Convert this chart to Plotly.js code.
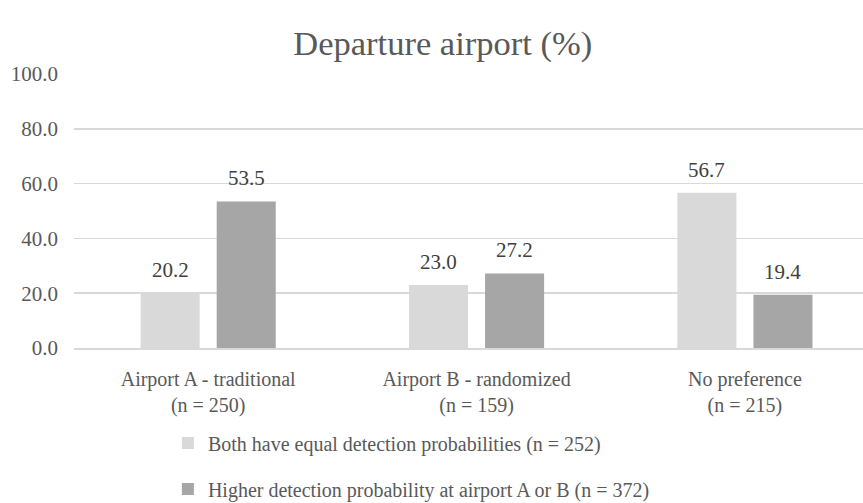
<!DOCTYPE html>
<html>
<head>
<meta charset="utf-8">
<script src="https://cdn.plot.ly/plotly-3.0.1.min.js"></script>
<style>
  html, body { margin: 0; padding: 0; background: #fff; }
  #chart { width: 863px; height: 503px; }
</style>
</head>
<body>
<div id="chart"></div>
<script>
// Departure airport choice by detection-probability condition
const categories = ["Airport A - traditional<br>(n = 250)", "Airport B - randomized<br>(n = 159)", "No preference<br>(n = 215)"];
const seriesNames = ["Both have equal detection probabilities (n = 252)", "Higher detection probability at airport A or B (n = 372)"];
const equalProb = [20.2, 23.0, 56.7];
const higherProb = [53.5, 27.2, 19.4];
const yTicks = [0, 20, 40, 60, 80, 100];

const font = "Liberation Serif, DejaVu Serif, serif";
const xIdx = categories.map((_, i) => i);
const BARGAP = 0.433;
const BARGROUPGAP = 0.224;

function barTrace(name, values, color, group) {
  return {
    type: "bar",
    name: name,
    x: xIdx,
    y: values,
    marker: { color: color },
    legendgroup: group,
    hoverinfo: "skip"
  };
}

const series = [
  { name: seriesNames[0], values: equalProb, color: "#d9d9d9", group: "a" },
  { name: seriesNames[1], values: higherProb, color: "#a6a6a6", group: "b" }
];

const data = series.map(s => barTrace(s.name, s.values, s.color, s.group));

// value labels sit above each bar, centred on its slot within the group
const slot = (1 - BARGAP) / series.length;
const annotations = [];
series.forEach((s, si) => {
  s.values.forEach((v, ci) => {
    annotations.push({
      x: ci + (si - (series.length - 1) / 2) * slot,
      y: v,
      xref: "x", yref: "y",
      text: v.toFixed(1),
      showarrow: false,
      xanchor: "center",
      yanchor: "bottom",
      yshift: 9,
      font: { family: font, size: 21, color: "#404040" }
    });
  });
});

const layout = {
  width: 863,
  height: 503,
  margin: { l: 74, r: 0, t: 74, b: 155 },
  paper_bgcolor: "#ffffff",
  plot_bgcolor: "#ffffff",
  font: { family: font, color: "#595959" },
  title: {
    text: "Departure airport (%)",
    font: { family: font, size: 34.5, color: "#595959" },
    x: 0.513, xanchor: "center",
    y: 0.915, yanchor: "middle"
  },
  barmode: "group",
  bargap: BARGAP,
  bargroupgap: BARGROUPGAP,
  showlegend: true,
  legend: {
    orientation: "v",
    xref: "paper",
    x: 0.119, xanchor: "left",
    yref: "container",
    y: 0.158, yanchor: "top",
    font: { family: font, size: 20, color: "#595959" },
    traceorder: "grouped",
    tracegroupgap: 17,
    itemwidth: 30
  },
  annotations: annotations,
  xaxis: {
    type: "linear",
    range: [-0.5, 2.44],
    tickmode: "array",
    tickvals: xIdx,
    ticktext: categories,
    tickfont: { family: font, size: 20, color: "#595959" },
    showgrid: false,
    zeroline: false,
    showline: true,
    linecolor: "#d9d9d9",
    linewidth: 1.5,
    ticks: "",
    ticklabelstandoff: 12
  },
  yaxis: {
    range: [0, 100],
    tickmode: "array",
    tickvals: yTicks,
    ticktext: yTicks.map(v => v.toFixed(1)),
    tickfont: { family: font, size: 21, color: "#595959" },
    showgrid: true,
    gridcolor: "#d9d9d9",
    gridwidth: 1.5,
    zeroline: false,
    ticks: "",
    ticklabelstandoff: 15
  }
};

Plotly.newPlot("chart", data, layout, { displayModeBar: false, staticPlot: true });
</script>
</body>
</html>
